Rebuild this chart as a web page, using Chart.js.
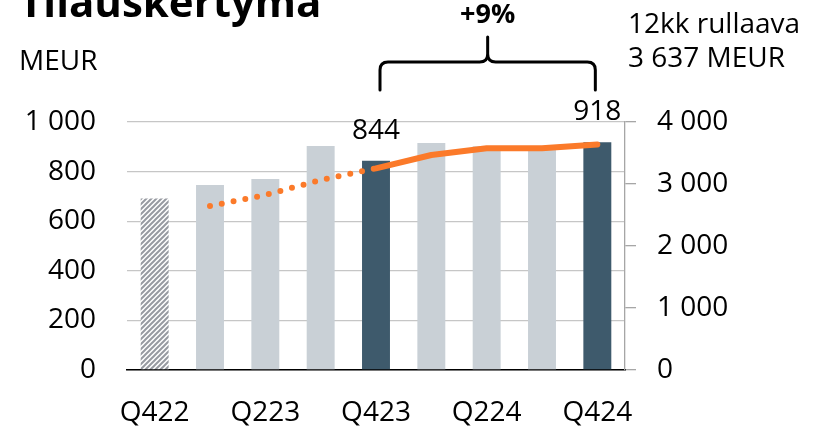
<!DOCTYPE html>
<html>
<head>
<meta charset="utf-8">
<script src="https://cdn.jsdelivr.net/npm/chart.js@4.4.1/dist/chart.umd.min.js"></script>
<style>
html,body{margin:0;padding:0;background:#fff;}
#wrap{width:815px;height:431px;position:relative;}
</style>
</head>
<body>
<div id="wrap"><canvas id="c" width="815" height="431"></canvas></div>
<script>
// ---- data ----
const categories = ['Q422','Q123','Q223','Q323','Q423','Q124','Q224','Q324','Q424'];
const orderIntake = [692, 746, 770, 903, 844, 915, 902, 896, 918];
const rolling12m = [null, 2645, 2822, 3065, 3253, 3468, 3575, 3575, 3637];
const leftTicks = [0, 200, 400, 600, 800, 1000];
const rightTicks = [0, 1000, 2000, 3000, 4000];
const labelledBars = [4, 8];
const titleText = 'Tilauskertymä';
const unitText = 'MEUR';
const changeText = '+9%';
const rollingLines = ['12kk rullaava', '3 637 MEUR'];

const FONT = "'Open Sans', 'Noto Sans', sans-serif";
const fmt = v => String(v).replace(/\B(?=(\d{3})+(?!\d))/g, ' ');

// hatch pattern for the first bar
function hatch() {
  const s = 5;
  const p = document.createElement('canvas');
  p.width = s; p.height = s;
  const g = p.getContext('2d');
  g.fillStyle = '#ffffff'; g.fillRect(0,0,s,s);
  g.strokeStyle = '#979aa1'; g.lineWidth = 2.0;
  g.beginPath();
  g.moveTo(-1, s+1); g.lineTo(s+1, -1);
  g.moveTo(-1, 1); g.lineTo(1, -1);
  g.moveTo(s-1, s+1); g.lineTo(s+1, s-1);
  g.stroke();
  return document.getElementById('c').getContext('2d').createPattern(p, 'repeat');
}
const LIGHT = '#c9d0d6', DARK = '#3e5a6c', ORANGE = '#fb7a2a';
const barColors = categories.map((c,i) => i === 0 ? hatch() : (labelledBars.includes(i) ? DARK : LIGHT));

const overlay = {
  id: 'overlay',
  afterDatasetsDraw(chart) {
    const ctx = chart.ctx;
    const meta = chart.getDatasetMeta(1);
    ctx.save();
    ctx.fillStyle = '#000';
    // title
    ctx.font = "bold 42px " + FONT;
    ctx.textAlign = 'left'; ctx.textBaseline = 'alphabetic';
    ctx.fillText(titleText, 19, 17);
    // unit
    ctx.font = "28px " + FONT;
    ctx.textBaseline = 'middle';
    ctx.fillText(unitText, 19, 62);
    // rolling text
    ctx.fillText(rollingLines[0], 628, 25);
    ctx.fillText(rollingLines[1], 628, 59);
    // data labels
    ctx.textAlign = 'center';
    labelledBars.forEach(i => {
      const el = meta.data[i];
      ctx.fillText(fmt(orderIntake[i]), el.x, el.y - 30);
    });
    // bracket
    const x1 = meta.data[labelledBars[0]].x + 4, x2 = meta.data[labelledBars[1]].x - 2;
    const xm = (x1 + x2) / 2;
    const yb = 90, yh = 62, yp = 37, r = 8;
    ctx.strokeStyle = '#000'; ctx.lineWidth = 3; ctx.lineCap = 'round'; ctx.lineJoin = 'round';
    ctx.beginPath();
    ctx.moveTo(x1, yb);
    ctx.lineTo(x1, yh + r);
    ctx.quadraticCurveTo(x1, yh, x1 + r, yh);
    ctx.lineTo(xm - r, yh);
    ctx.quadraticCurveTo(xm, yh, xm, yh - r);
    ctx.lineTo(xm, yp);
    ctx.moveTo(xm, yh - r);
    ctx.quadraticCurveTo(xm, yh, xm + r, yh);
    ctx.lineTo(x2 - r, yh);
    ctx.quadraticCurveTo(x2, yh, x2, yh + r);
    ctx.lineTo(x2, yb);
    ctx.stroke();
    ctx.font = "bold 27px " + FONT;
    ctx.fillText(changeText, xm, 15);
    ctx.restore();
  }
};

new Chart(document.getElementById('c'), {
  data: {
    labels: categories,
    datasets: [
      {
        type: 'line', data: rolling12m, yAxisID: 'y2', order: 0,
        borderColor: ORANGE, borderWidth: 6, pointRadius: 0,
        borderCapStyle: 'round', borderJoinStyle: 'round', tension: 0,
        segment: {
          borderDash: c => c.p0DataIndex < 4 ? [0, 12] : undefined,
          borderWidth: c => c.p0DataIndex < 4 ? 6 : 6
        }
      },
      {
        type: 'bar', data: orderIntake, yAxisID: 'y', order: 1,
        backgroundColor: barColors, barPercentage: 0.505, categoryPercentage: 1
      }
    ]
  },
  options: {
    responsive: false, animation: false, devicePixelRatio: 1,
    layout: { padding: { top: 122, left: 0, right: 0, bottom: 0 } },
    plugins: { legend: { display: false }, tooltip: { enabled: false } },
    scales: {
      x: {
        grid: { display: false, drawTicks: false },
        border: { display: true, color: '#000', width: 1.5 },
        ticks: {
          autoSkip: false, maxRotation: 0, padding: 26, color: '#000',
          font: { family: FONT, size: 28 },
          callback: (v, i) => i % 2 === 0 ? categories[i] : ''
        },
        afterFit: s => { s.height = 61; }
      },
      y: {
        position: 'left', min: 0, max: 1000,
        afterBuildTicks: s => { s.ticks = leftTicks.map(v => ({ value: v })); },
        grid: { color: '#c6c6c6', lineWidth: 1.3, drawTicks: false },
        border: { display: false },
        ticks: { padding: 31, color: '#000', font: { family: FONT, size: 28 }, callback: v => fmt(v) },
        afterFit: s => { s.width = 127; }
      },
      y2: {
        position: 'right', min: 0, max: 4000,
        afterBuildTicks: s => { s.ticks = rightTicks.map(v => ({ value: v })); },
        grid: { drawOnChartArea: false, drawTicks: true, tickLength: 11, color: '#a6a6a6', lineWidth: 1.3 },
        border: { display: true, color: '#a6a6a6', width: 1.3 },
        ticks: { padding: 21, color: '#000', font: { family: FONT, size: 28 }, callback: v => fmt(v) },
        afterFit: s => { s.width = 190; }
      }
    }
  },
  plugins: [overlay]
});
</script>
</body>
</html>
